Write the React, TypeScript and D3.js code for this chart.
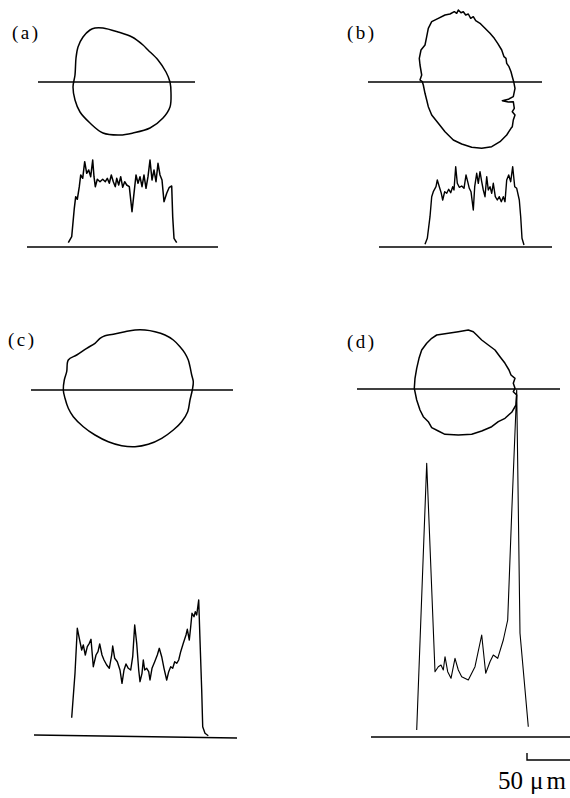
import React from 'react';
import * as d3 from 'd3';

type Pt = [number, number];

// Cell outlines: [x along scan line (µm), height above scan line (µm)]
const contourA: Pt[] = [
  [57, 54], [65, 54], [80, 50], [94, 45], [105, 37], [110, 32], [120, 22], [128, 10],
  [132, 0], [133, -11], [132, -25], [125, -36], [112, -46], [95, -51], [82, -53],
  [65, -51], [52, -41], [42, -30], [37, -18], [35, -5], [37, 7], [38, 24], [40, 35],
  [45, 45], [52, 52],
];

const contourB: Pt[] = [
  [86.3, 70.3], [88.7, 68.7], [90.3, 72], [93, 69.3], [95.3, 70.3], [97.7, 67], [100.3, 68],
  [102.7, 63.7], [105.3, 65.3], [107.7, 61.3], [112, 58.7], [117, 53.7], [122, 48.7],
  [126.3, 43.7], [129.7, 38.7], [133.7, 32], [136, 25.3], [138, 23.7], [138.7, 18.7],
  [141, 15.3], [143, 10.3], [144.3, 5.3], [145.7, 0.3], [147, -6.3], [145.3, -14.7],
  [140.3, -17.3], [134.3, -18.7], [140.3, -20], [145.3, -19.7], [146.3, -26.3],
  [144.3, -29.7], [147, -33], [145.3, -38], [144.3, -44.7], [143, -46.3], [138.7, -53],
  [132, -59.7], [123.7, -64.7], [113.7, -66.3], [103.7, -65.3], [93.7, -62], [85.3, -58],
  [77, -49.7], [70.3, -41.3], [63.7, -33], [60.3, -24.7], [58.7, -18], [57, -11.3],
  [55.3, -3], [54.3, 0.3], [52, 2], [53.7, 7], [52, 17], [51.3, 23.7], [53, 32], [57, 37],
  [58.7, 45.3], [60.3, 53.7], [63.7, 60.3], [70.3, 63.7], [77, 67], [82, 68],
];

const contourC: Pt[] = [
  [114, 60], [124, 58.3], [134, 55], [142.3, 50], [149, 43.3], [154, 36.7], [157.3, 30],
  [159, 23.3], [160.7, 15], [162.3, 8.3], [161.3, 0], [159, -10], [156.7, -21.7],
  [150.7, -31.7], [142.3, -40], [130.7, -48.3], [117.3, -54.3], [104, -56.7], [90.7, -55.7],
  [77.3, -51.7], [64, -45], [52.3, -36.7], [42.3, -26.7], [37.3, -18.3], [34, -8.3],
  [32.3, 0], [33.3, 10], [35.7, 18.3], [37.3, 30], [45.7, 35], [55.7, 41.7], [64, 46.7],
  [69, 51.7], [74, 54.3], [82.3, 55.7], [94, 58.3], [104, 60],
];

const contourD: Pt[] = [
  [116.3, 57.3], [119.7, 54], [124.7, 49], [131.3, 44], [138, 39], [143, 32.3], [148, 25.7],
  [152, 19], [154, 14], [158, 10.7], [156.3, 5.7], [158, 0.7], [156.3, -2.7], [159.7, -6],
  [159, -16], [154.7, -23.3], [148, -29.3], [141.3, -32.7], [134.7, -37.7], [124.7, -42],
  [114.7, -45.3], [101.3, -46], [88, -45.3], [81.3, -42], [74.7, -38.7], [71.3, -32.7],
  [66.3, -27.7], [63, -21], [59.7, -11], [57.3, 0.7], [58, 10.7], [59.7, 20.7], [62, 30.7],
  [64.7, 39], [69.7, 45.7], [74.7, 50.7], [79.7, 54], [91.3, 55.7], [101.3, 57.3], [111.3, 59],
];

// Intensity profiles along the scan line: [x (µm), intensity (a.u.)]
const profileA: Pt[] = [
  [30.3, 4.3], [33.7, 10.3], [36.3, 38.7], [37.7, 50.3], [39.3, 47.7], [41.3, 60.3], [42.7, 72],
  [44.7, 68.7], [46.7, 85.3], [48.7, 73.7], [50.7, 77], [52.7, 70.3], [54.7, 87], [56, 70.3],
  [57.3, 60.3], [59.3, 67.7], [62, 65.3], [64.7, 67.7], [67.3, 65.3], [69.3, 68.7], [71.3, 63.7],
  [73.3, 72], [75.3, 65.3], [77.3, 60.3], [78.7, 68.7], [80.7, 62], [82.7, 70.3], [84.7, 59.7],
  [86.7, 65.3], [88.7, 62], [91.3, 60.3], [94, 35.3], [96, 53.7], [98, 72], [100, 63.7],
  [102, 70.3], [104, 60.3], [106, 72], [108, 58.7], [110, 70.3], [112, 87], [114, 67], [116, 77],
  [118, 65.3], [120, 83.7], [122, 72], [124, 67], [126, 45.3], [128.7, 53.7], [131.3, 59.7],
  [133.7, 61], [134.7, 30.3], [136, 8.7], [138.7, 4.3],
];

const profileB: Pt[] = [
  [57, 2.7], [59.3, 8.7], [62, 30.3], [63.7, 50.3], [65.3, 55.3], [68, 60.3], [69.3, 67],
  [71.3, 60.3], [73.3, 53.7], [74.7, 47], [76.7, 55.3], [78.7, 53.7], [80.7, 57.7], [82.7, 54.3],
  [84.7, 60.3], [86, 57], [87.7, 80.3], [89.3, 63.7], [91.3, 59.7], [93.7, 61], [96, 58.7],
  [98, 72], [99.7, 65.3], [101.3, 58.7], [103, 55.3], [105.3, 37], [106.7, 60.3], [108.7, 73.7],
  [110.3, 63.7], [112, 75.3], [113.7, 65.3], [115.3, 57], [117, 50.3], [118.7, 70.3],
  [120.3, 57], [122, 60.3], [123.7, 53.7], [125.3, 63.7], [127.3, 50.3], [129.3, 47],
  [131.3, 50.3], [133.3, 45.3], [135.3, 50.3], [137, 45.3], [138.7, 67], [140.7, 72],
  [142.7, 65.3], [144.7, 80.3], [146.7, 60.3], [148.7, 58.7], [151.3, 47], [152.7, 30.3],
  [154, 8.7], [156, 2],
];

const profileC: Pt[] = [
  [40.7, 19.3], [44, 63.7], [46.3, 108.7], [48.3, 98.7], [50.7, 87], [52.3, 92], [54.3, 82],
  [56.3, 90.3], [58.3, 93.7], [60, 97.7], [62.3, 70.3], [65, 82], [67, 85.3], [68.7, 93],
  [71, 82], [73, 77], [75.7, 72], [78.3, 68.7], [80.7, 82], [81.7, 91], [83.7, 78.7],
  [86.3, 75.3], [89, 67], [91, 53.7], [93, 67], [95, 73], [97.3, 68.7], [99.7, 67],
  [101.7, 80.3], [103.7, 112], [105.7, 93.7], [107.7, 67], [109, 55.3], [111, 63.7],
  [112.3, 77], [113.7, 67], [115.7, 68.7], [117.7, 65.3], [119, 57], [121, 68.7], [123.7, 75.3],
  [126.3, 82], [128.3, 88.7], [130.7, 80.3], [133, 68.7], [135.7, 57], [137.7, 65.3],
  [139.7, 70.3], [141.7, 68.7], [143.7, 75.3], [145.7, 73.7], [147.7, 77], [149.7, 85.3],
  [152.3, 93.7], [155, 102], [156.3, 107.7], [158.3, 97], [159.7, 110.3], [161, 123.7],
  [163, 120.3], [164.3, 125.3], [165.7, 122], [167.7, 137], [169, 97], [170.7, 47],
  [171.7, 10.3], [174, 3.7], [177.3, 1.3],
];

const profileD: Pt[] = [
  [59.7, 7], [69.7, 273.7], [78, 65.3], [81.3, 70.3], [84, 72], [86.3, 67], [88, 80.3],
  [90.7, 65.3], [94, 58.7], [98, 78.7], [101.3, 67], [104.7, 60.3], [111.3, 57], [118, 70.3],
  [124.7, 102], [128.7, 63.7], [133, 75.3], [136.3, 82], [140.7, 78.7], [146.3, 97],
  [150.7, 117], [154.7, 223.7], [159.7, 347], [163, 103.7], [171.3, 10.3],
];

const panelLabels = ['(a)', '(b)', '(c)', '(d)'];
const scaleBarMicrons = 50;
const scaleBarNumber = '50';
const scaleBarUnit = 'μm';

const W = 570;
const H = 798;
const FONT = '"Liberation Serif", "DejaVu Serif", serif';

type Panel = {
  contour: Pt[];
  profile: Pt[];
  label: string;
  smooth: boolean;
  x0: number;
  scanY: number;
  baseY: number;
  scan: [number, number];
  base: [number, number];
  baseTilt: [number, number];
  labelPos: [number, number];
  profileWidth: number;
};

const panels: Panel[] = [
  { contour: contourA, profile: profileA, label: panelLabels[0], smooth: true, x0: 38, scanY: 82, baseY: 247,
    scan: [0, 157], base: [-11, 180], baseTilt: [0, 0], labelPos: [12, 39], profileWidth: 1.5 },
  { contour: contourB, profile: profileB, label: panelLabels[1], smooth: false, x0: 368, scanY: 82, baseY: 247,
    scan: [0, 174], base: [11, 184], baseTilt: [0, 0], labelPos: [347, 39], profileWidth: 1.4 },
  { contour: contourC, profile: profileC, label: panelLabels[2], smooth: true, x0: 31, scanY: 390, baseY: 737,
    scan: [0, 202], base: [3, 206], baseTilt: [2, -1], labelPos: [8, 346], profileWidth: 1.4 },
  { contour: contourD, profile: profileD, label: panelLabels[3], smooth: false, x0: 357, scanY: 389, baseY: 737,
    scan: [0, 203], base: [14, 220], baseTilt: [0, 0], labelPos: [347, 348], profileWidth: 1.1 },
];

function PanelView({ p }: { p: Panel }) {
  // 1 µm is drawn as 1 px; intensity drawn at 1 a.u. per px
  const x = d3.scaleLinear().domain([0, 100]).range([p.x0, p.x0 + 100]);
  const yCell = d3.scaleLinear().domain([-100, 100]).range([p.scanY + 100, p.scanY - 100]);
  const yProf = d3.scaleLinear().domain([0, 100]).range([p.baseY, p.baseY - 100]);

  const outline = d3
    .line<Pt>()
    .x((d) => x(d[0]))
    .y((d) => yCell(d[1]))
    .curve(p.smooth ? d3.curveCatmullRomClosed.alpha(0.5) : d3.curveLinearClosed);

  const trace = d3
    .line<Pt>()
    .x((d) => x(d[0]))
    .y((d) => yProf(d[1]));

  return (
    <g>
      <text x={p.labelPos[0]} y={p.labelPos[1]} fontFamily={FONT} fontSize={19} letterSpacing={2.5} fill="#000">
        {p.label}
      </text>
      <line x1={x(p.scan[0])} x2={x(p.scan[1])} y1={yCell(0)} y2={yCell(0)} stroke="#000" strokeWidth={1.4} />
      <path d={outline(p.contour) ?? ''} fill="none" stroke="#000" strokeWidth={1.5} strokeLinejoin="round" />
      <line
        x1={x(p.base[0])}
        x2={x(p.base[1])}
        y1={yProf(p.baseTilt[0])}
        y2={yProf(p.baseTilt[1])}
        stroke="#000"
        strokeWidth={1.6}
      />
      <path d={trace(p.profile) ?? ''} fill="none" stroke="#000" strokeWidth={p.profileWidth} strokeLinejoin="round" />
    </g>
  );
}

export default function App() {
  const pd = panels[3];
  const xd = d3.scaleLinear().domain([0, 100]).range([pd.x0, pd.x0 + 100]);
  const barStart = 170;
  const barX1 = xd(barStart);
  const barX2 = xd(barStart + scaleBarMicrons);
  const barY = 760;

  return (
    <svg
      width={W}
      height={H}
      viewBox={`0 0 ${W} ${H}`}
      style={{ position: 'absolute', left: 0, top: 0, background: '#fff' }}
    >
      <rect x={0} y={0} width={W} height={H} fill="#fff" />
      {panels.map((p) => (
        <PanelView key={p.label} p={p} />
      ))}
      <path
        d={`M${barX1},${barY - 7}V${barY}H${barX2}`}
        fill="none"
        stroke="#000"
        strokeWidth={1.4}
      />
      <text x={498} y={789} fontFamily={FONT} fontSize={25} fill="#000">
        {scaleBarNumber}
        <tspan x={530} letterSpacing={3}>{scaleBarUnit}</tspan>
      </text>
    </svg>
  );
}
